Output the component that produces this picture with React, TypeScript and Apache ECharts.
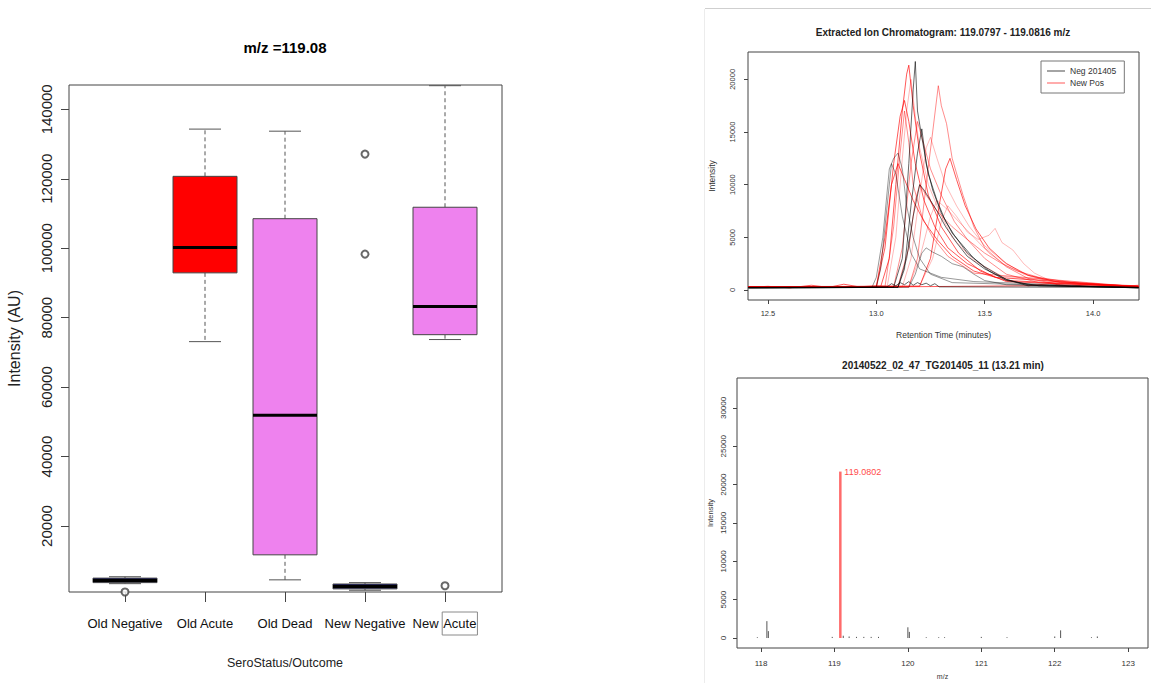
import React, { useEffect, useRef } from 'react';
import * as echarts from 'echarts';

// ---------- Left: boxplot ----------
const groups = ['Old Negative', 'Old Acute', 'Old Dead', 'New Negative', 'New Acute'];
const boxColors = ['#0b0b62', '#ff0000', '#ee82ee', '#0b0b62', '#ee82ee'];
// [lower whisker, Q1, median, Q3, upper whisker]
const boxStats = [
  [3400, 3700, 4300, 5000, 5400],
  [73100, 92900, 100200, 120700, 134300],
  [4500, 11700, 51900, 108500, 133700],
  [1500, 1900, 2600, 3300, 3700],
  [73700, 75100, 83200, 111800, 146800],
];
const outliers = [
  [0, 1000],
  [3, 127100],
  [3, 98300],
  [4, 2800],
];
const boxYTicks = [20000, 40000, 60000, 80000, 100000, 120000, 140000];

// ---------- Right top: chromatogram ----------
const negSeries = [
  [[12.41, 250], [13.08, 250], [13.12, 3000], [13.15, 12000], [13.17, 19000], [13.18, 21700], [13.19, 17000], [13.21, 14500], [13.24, 11000], [13.28, 8500], [13.32, 6500], [13.36, 5200], [13.42, 3500], [13.5, 2200], [13.6, 1000], [13.7, 400], [14.21, 250]],
  [[12.41, 200], [12.98, 250], [13.0, 1200], [13.03, 5000], [13.06, 11500], [13.08, 12500], [13.1, 13000], [13.12, 11500], [13.14, 8000], [13.17, 5000], [13.2, 3000], [13.25, 1500], [13.35, 700], [14.21, 200]],
  [[12.41, 200], [13.1, 250], [13.13, 2000], [13.16, 8000], [13.19, 13000], [13.21, 15300], [13.23, 12000], [13.26, 9500], [13.3, 7300], [13.33, 6200], [13.35, 5400], [13.4, 4200], [13.45, 3000], [13.52, 1800], [13.6, 900], [13.75, 400], [14.21, 250]],
  [[12.41, 200], [13.15, 250], [13.18, 1500], [13.21, 3500], [13.23, 4000], [13.26, 3600], [13.3, 3200], [13.35, 2500], [13.4, 2200], [13.45, 1500], [13.5, 900], [13.6, 500], [14.21, 200]],
  [[12.41, 200], [13.1, 250], [13.14, 3000], [13.17, 7000], [13.2, 10000], [13.22, 9500], [13.25, 8500], [13.28, 7500], [13.32, 6000], [13.37, 4500], [13.42, 3200], [13.5, 2000], [13.6, 1000], [13.7, 500], [14.21, 200]],
  [[12.41, 200], [13.0, 250], [13.02, 2000], [13.05, 8000], [13.07, 12000], [13.09, 11000], [13.12, 7000], [13.16, 3500], [13.2, 2000], [13.3, 1200], [13.45, 800], [14.21, 200]],
  [[12.41, 250], [13.05, 300], [13.07, 600], [13.09, 400], [13.11, 700], [13.13, 500], [13.15, 800], [13.17, 450], [13.19, 700], [13.21, 500], [13.23, 650], [13.25, 400], [13.27, 600], [13.29, 300], [14.21, 250]],
];
const posSeries = [
  [[12.41, 300], [13.02, 300], [13.06, 3000], [13.09, 10000], [13.12, 17000], [13.14, 20500], [13.15, 21350], [13.17, 17500], [13.2, 13000], [13.24, 9000], [13.3, 6000], [13.38, 3500], [13.48, 1800], [13.6, 800], [14.21, 300]],
  [[12.41, 300], [13.15, 300], [13.19, 3000], [13.23, 10000], [13.26, 15000], [13.286, 19400], [13.3, 17500], [13.324, 15800], [13.35, 12500], [13.4, 9000], [13.45, 6000], [13.5, 4000], [13.6, 2200], [13.7, 1100], [13.85, 500], [14.21, 300]],
  [[12.41, 300], [13.2, 400], [13.26, 3000], [13.3, 6500], [13.33, 8000], [13.37, 7000], [13.42, 5500], [13.47, 4800], [13.52, 5200], [13.548, 5850], [13.58, 4500], [13.63, 3800], [13.68, 2500], [13.73, 1600], [13.8, 900], [13.95, 600], [14.21, 400]],
  [[12.41, 300], [13.0, 300], [13.04, 4000], [13.08, 12000], [13.11, 16500], [13.13, 18000], [13.15, 16000], [13.18, 12000], [13.22, 8500], [13.27, 6000], [13.33, 4000], [13.42, 2500], [13.55, 1200], [14.21, 300]],
  [[12.41, 300], [13.08, 300], [13.12, 4000], [13.16, 12000], [13.19, 16000], [13.21, 14500], [13.25, 11500], [13.3, 9000], [13.36, 6500], [13.42, 4800], [13.5, 3000], [13.6, 1500], [13.75, 700], [14.21, 300]],
  [[12.41, 300], [13.12, 300], [13.16, 3000], [13.2, 9000], [13.23, 13500], [13.25, 14500], [13.28, 12500], [13.32, 10000], [13.37, 8000], [13.43, 6000], [13.5, 4200], [13.58, 2800], [13.68, 1500], [13.8, 800], [14.21, 300]],
  [[12.41, 300], [13.0, 300], [13.04, 5000], [13.07, 10000], [13.1, 12000], [13.13, 10500], [13.17, 8500], [13.22, 6500], [13.28, 4800], [13.35, 3200], [13.45, 1800], [13.6, 900], [14.21, 300]],
  [[12.41, 300], [13.1, 350], [13.15, 4000], [13.18, 8500], [13.2, 10000], [13.23, 9000], [13.28, 7500], [13.35, 6000], [13.42, 4800], [13.5, 3500], [13.58, 2500], [13.65, 1800], [13.75, 1200], [13.9, 700], [14.05, 500], [14.21, 400]],
  [[12.41, 300], [13.05, 300], [13.09, 5000], [13.12, 12500], [13.14, 17000], [13.16, 20000], [13.18, 16500], [13.2, 13500], [13.24, 10000], [13.29, 7500], [13.35, 5000], [13.45, 2800], [13.58, 1300], [14.21, 300]],
  [[12.41, 300], [13.2, 350], [13.25, 3000], [13.29, 8000], [13.32, 11500], [13.34, 12500], [13.37, 10500], [13.41, 8000], [13.46, 5800], [13.52, 4000], [13.6, 2500], [13.7, 1400], [13.85, 700], [14.21, 350]],
  [[12.41, 300], [13.04, 300], [13.08, 6000], [13.11, 13000], [13.13, 17000], [13.15, 14000], [13.17, 10000], [13.21, 7000], [13.26, 5000], [13.33, 3200], [13.45, 1600], [14.21, 300]],
  [[12.41, 300], [13.15, 350], [13.2, 3000], [13.25, 7000], [13.28, 8500], [13.32, 7800], [13.38, 6500], [13.45, 5000], [13.52, 3500], [13.6, 2300], [13.7, 1400], [13.82, 800], [14.21, 350]],
  [[12.41, 250], [12.5, 350], [12.6, 200], [12.7, 450], [12.78, 250], [12.85, 550], [12.92, 300], [13.0, 400], [13.1, 300], [13.7, 400], [13.8, 600], [13.9, 350], [14.0, 550], [14.1, 300], [14.21, 450]],
];
const eicXTicks = [12.5, 13.0, 13.5, 14.0];
const eicYTicks = [0, 5000, 10000, 15000, 20000];

// ---------- Right bottom: spectrum ----------
const spectrumPeaks = [
  [117.95, 100], [118.08, 2200], [118.1, 900], [118.97, 150], [119.12, 300], [119.2, 200], [119.3, 150],
  [119.4, 150], [119.5, 150], [119.6, 150], [120.0, 1400], [120.02, 800], [120.25, 100], [120.42, 100],
  [120.5, 100], [121.0, 150], [121.35, 100], [122.0, 200], [122.08, 1000], [122.5, 100], [122.58, 200],
];
const basePeak = [[119.0802, 21700]];
const msXTicks = [118, 119, 120, 121, 122, 123];
const msYTicks = [0, 5000, 10000, 15000, 20000, 25000, 30000];

const FONT = 'Liberation Sans, Arial, Helvetica, sans-serif';
const plain = (v: number) => String(v);

export default function App() {
  const ref = useRef<HTMLDivElement>(null);
  useEffect(() => {
    if (!ref.current) return;
    const chart = echarts.init(ref.current, null, { renderer: 'svg' });

    const frameColor = '#444';
    const stickSeries = (data: number[][], color: string, width: number, label: boolean) => ({
      type: 'custom',
      xAxisIndex: 3,
      yAxisIndex: 3,
      data,
      encode: { x: 0, y: 1 },
      renderItem: (params: any, api: any) => {
        const x = api.value(0);
        const y = api.value(1);
        const top = api.coord([x, y]);
        const base = api.coord([x, 0]);
        const children: any[] = [
          { type: 'line', shape: { x1: top[0], y1: base[1], x2: top[0], y2: top[1] }, style: { stroke: color, lineWidth: width } },
        ];
        if (label) {
          children.push({
            type: 'text',
            x: top[0] + 4,
            y: top[1],
            style: { text: x.toFixed(4), fill: '#ff4a4a', font: `9px ${FONT}`, textVerticalAlign: 'middle', textAlign: 'left' },
          });
        }
        return { type: 'group', children };
      },
    });

    const option: any = {
      animation: false,
      backgroundColor: '#fff',
      textStyle: { fontFamily: FONT },
      graphic: [
        { type: 'line', shape: { x1: 705, y1: 8.5, x2: 1151, y2: 8.5 }, style: { stroke: '#cfcfcf', lineWidth: 1 } },
        { type: 'line', shape: { x1: 704.5, y1: 9, x2: 704.5, y2: 683 }, style: { stroke: '#ececec', lineWidth: 1 } },
        { type: 'text', x: 285, y: 47, style: { text: 'm/z =119.08', font: `bold 15px ${FONT}`, fill: '#000', textAlign: 'center', textVerticalAlign: 'middle' } },
        { type: 'text', x: 943, y: 32, style: { text: 'Extracted Ion Chromatogram: 119.0797 - 119.0816 m/z', font: `bold 10px ${FONT}`, fill: '#222', textAlign: 'center', textVerticalAlign: 'middle' } },
        { type: 'text', x: 943, y: 365, style: { text: '20140522_02_47_TG201405_11 (13.21 min)', font: `bold 10px ${FONT}`, fill: '#222', textAlign: 'center', textVerticalAlign: 'middle' } },
      ],
      legend: {
        left: 1041,
        top: 61,
        orient: 'vertical',
        icon: 'rect',
        itemWidth: 18,
        itemHeight: 1.2,
        itemGap: 2,
        padding: [5, 8, 5, 6],
        borderColor: '#777',
        borderWidth: 1,
        selectedMode: false,
        textStyle: { fontSize: 8.5, color: '#333', fontFamily: FONT, lineHeight: 10 },
        data: ['Neg 201405', 'New Pos'],
      },
      grid: [
        { left: 69, top: 85, width: 433, height: 507, show: true, borderColor: frameColor, borderWidth: 1, backgroundColor: 'transparent' },
        { left: 85, top: 85, width: 400, height: 507, show: false },
        { left: 748, top: 52, width: 391, height: 248, show: true, borderColor: frameColor, borderWidth: 1, backgroundColor: 'transparent' },
        { left: 737, top: 378, width: 411, height: 270, show: true, borderColor: frameColor, borderWidth: 1, backgroundColor: 'transparent' },
      ],
      xAxis: [
        { gridIndex: 0, type: 'value', min: 0, max: 1, show: false },
        {
          gridIndex: 1,
          type: 'category',
          data: groups,
          axisLine: { show: false, onZero: false },
          axisTick: { show: true, alignWithLabel: true, length: 10, lineStyle: { color: frameColor } },
          axisLabel: {
            interval: 0,
            margin: 20,
            fontSize: 13,
            color: '#111',
            formatter: (v: string) => (v === 'New Acute' ? '{n|New }{hl|Acute}' : `{n|${v}}`),
            rich: {
              n: { fontSize: 13, color: '#111', padding: [5, 0, 5, 0] },
              hl: { fontSize: 13, color: '#111', borderColor: '#8a8a8a', borderWidth: 1, padding: [5, 1, 5, 1] },
            },
          },
          name: 'SeroStatus/Outcome',
          nameLocation: 'middle',
          nameGap: 64,
          nameTextStyle: { fontSize: 12.5, color: '#222' },
          splitLine: { show: false },
        },
        {
          gridIndex: 2,
          type: 'value',
          min: 12.408,
          max: 14.212,
          axisLine: { show: false, onZero: false },
          axisTick: { show: true, length: 4, customValues: eicXTicks, lineStyle: { color: frameColor } },
          axisLabel: { customValues: eicXTicks, fontSize: 7.5, color: '#333', margin: 9, formatter: (v: number) => v.toFixed(1) },
          splitLine: { show: false },
          name: 'Retention Time (minutes)',
          nameLocation: 'middle',
          nameGap: 30,
          nameTextStyle: { fontSize: 8.5, color: '#333' },
        },
        {
          gridIndex: 3,
          type: 'value',
          min: 117.673,
          max: 123.27,
          axisLine: { show: false, onZero: false },
          axisTick: { show: true, length: 4, customValues: msXTicks, lineStyle: { color: frameColor } },
          axisLabel: { customValues: msXTicks, fontSize: 8, color: '#333', margin: 11, formatter: plain },
          splitLine: { show: false },
          name: 'm/z',
          nameLocation: 'middle',
          nameGap: 25,
          nameTextStyle: { fontSize: 7, color: '#333' },
        },
      ],
      yAxis: [
        {
          gridIndex: 0,
          type: 'value',
          min: 1000,
          max: 147000,
          axisLine: { show: false, onZero: false },
          axisTick: { show: true, length: 8, customValues: boxYTicks, lineStyle: { color: frameColor } },
          axisLabel: { customValues: boxYTicks, rotate: 90, fontSize: 15, color: '#222', margin: 15, formatter: plain },
          splitLine: { show: false },
          name: 'Intensity (AU)',
          nameLocation: 'middle',
          nameGap: 47,
          nameTextStyle: { fontSize: 16, color: '#222' },
        },
        { gridIndex: 1, type: 'value', min: 1000, max: 147000, show: false, splitLine: { show: false } },
        {
          gridIndex: 2,
          type: 'value',
          min: -950,
          max: 22600,
          axisLine: { show: false, onZero: false },
          axisTick: { show: true, length: 4, customValues: eicYTicks, lineStyle: { color: frameColor } },
          axisLabel: { customValues: eicYTicks, rotate: 90, fontSize: 7.5, color: '#333', margin: 12, formatter: plain },
          splitLine: { show: false },
          name: 'Intensity',
          nameLocation: 'middle',
          nameGap: 32,
          nameTextStyle: { fontSize: 8.5, color: '#333' },
        },
        {
          gridIndex: 3,
          type: 'value',
          min: -1300,
          max: 33900,
          axisLine: { show: false, onZero: false },
          axisTick: { show: true, length: 4, customValues: msYTicks, lineStyle: { color: frameColor } },
          axisLabel: { customValues: msYTicks, rotate: 90, fontSize: 8, color: '#333', margin: 10, formatter: plain },
          splitLine: { show: false },
          name: 'Intensity',
          nameLocation: 'middle',
          nameGap: 23,
          nameTextStyle: { fontSize: 7.5, color: '#333' },
        },
      ],
      series: [
        {
          type: 'custom',
          xAxisIndex: 1,
          yAxisIndex: 1,
          data: boxStats.map((s, i) => [i, ...s]),
          encode: { x: 0, y: [1, 2, 3, 4, 5] },
          renderItem: (params: any, api: any) => {
            const i = api.value(0);
            const lo = api.coord([i, api.value(1)]);
            const q1 = api.coord([i, api.value(2)]);
            const md = api.coord([i, api.value(3)]);
            const q3 = api.coord([i, api.value(4)]);
            const hi = api.coord([i, api.value(5)]);
            const band = api.size([1, 0])[0];
            const bw = band * 0.8;
            const cw = bw * 0.5;
            const cx = lo[0];
            const wh = { stroke: '#555', lineWidth: 1, lineDash: [4, 3] };
            const cap = { stroke: '#555', lineWidth: 1 };
            return {
              type: 'group',
              children: [
                { type: 'line', shape: { x1: cx, y1: q3[1], x2: cx, y2: hi[1] }, style: wh },
                { type: 'line', shape: { x1: cx, y1: q1[1], x2: cx, y2: lo[1] }, style: wh },
                { type: 'line', shape: { x1: cx - cw / 2, y1: hi[1], x2: cx + cw / 2, y2: hi[1] }, style: cap },
                { type: 'line', shape: { x1: cx - cw / 2, y1: lo[1], x2: cx + cw / 2, y2: lo[1] }, style: cap },
                {
                  type: 'rect',
                  shape: { x: cx - bw / 2, y: q3[1], width: bw, height: Math.max(1, q1[1] - q3[1]) },
                  style: { fill: boxColors[params.dataIndex], stroke: '#444', lineWidth: 1 },
                },
                { type: 'line', shape: { x1: cx - bw / 2, y1: md[1], x2: cx + bw / 2, y2: md[1] }, style: { stroke: '#000', lineWidth: 3 } },
              ],
            };
          },
        },
        {
          type: 'scatter',
          xAxisIndex: 1,
          yAxisIndex: 1,
          data: outliers,
          symbol: 'emptyCircle',
          symbolSize: 7,
          clip: false,
          itemStyle: { color: '#444', borderColor: '#444', borderWidth: 1 },
        },
        ...posSeries.map((d, k) => ({
          type: 'line',
          name: 'New Pos',
          xAxisIndex: 2,
          yAxisIndex: 2,
          data: d,
          symbol: 'none',
          showSymbol: false,
          itemStyle: { color: 'rgba(255,0,0,0.55)' },
          lineStyle: { color: k % 3 === 0 ? 'rgba(255,0,0,0.65)' : k % 3 === 1 ? 'rgba(255,0,0,0.45)' : 'rgba(255,0,0,0.28)', width: 1 },
          z: 3,
        })),
        ...negSeries.map((d, k) => ({
          type: 'line',
          name: 'Neg 201405',
          xAxisIndex: 2,
          yAxisIndex: 2,
          data: d,
          symbol: 'none',
          showSymbol: false,
          itemStyle: { color: 'rgba(0,0,0,0.6)' },
          lineStyle: { color: k % 2 ? 'rgba(0,0,0,0.4)' : 'rgba(0,0,0,0.6)', width: 1 },
          z: 4,
        })),
        stickSeries(spectrumPeaks, '#555', 1, false),
        stickSeries(basePeak, '#ff6b6b', 2.5, true),
      ],
    };
    chart.setOption(option);
    return () => chart.dispose();
  }, []);
  return (
    <div
      ref={ref}
      style={{ position: 'absolute', left: 0, top: 0, width: 1151, height: 683, background: '#fff' }}
    />
  );
}
